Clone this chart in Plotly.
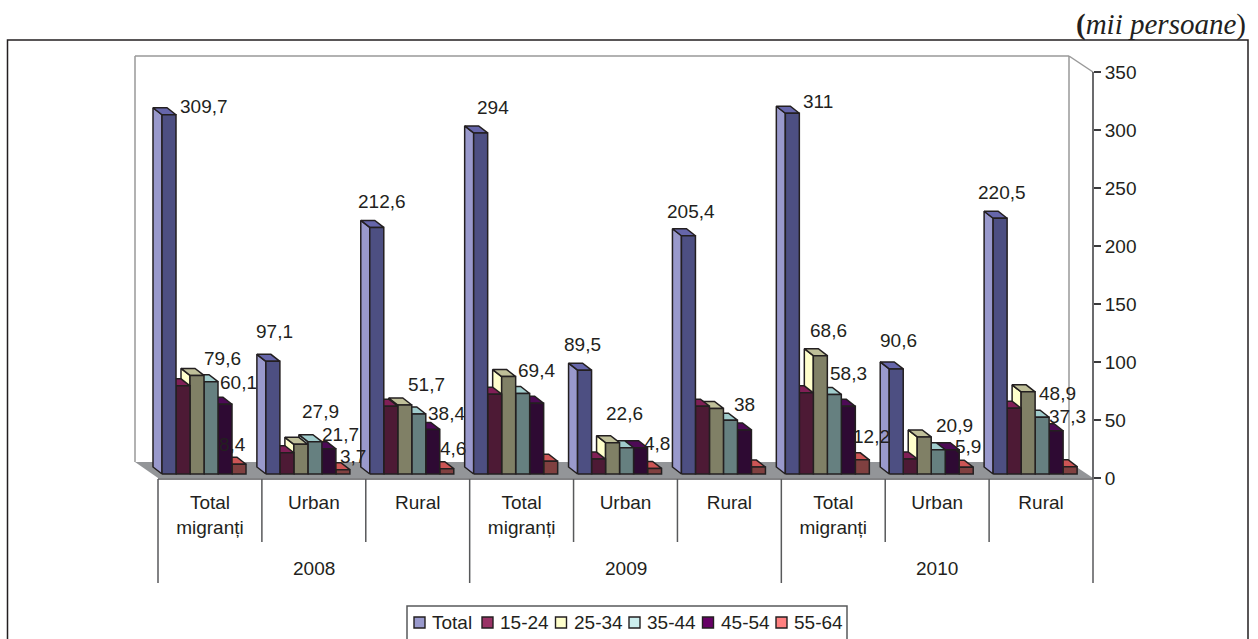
import plotly.graph_objects as go

# ---------- data ----------
YEARS = ["2008", "2009", "2010"]
CATEGORIES = ["Total<br>migranți", "Urban", "Rural"] * 3
SERIES = ["Total", "15-24", "25-34", "35-44", "45-54", "55-64"]
TOTAL = [309.7, 97.1, 212.6, 294, 89.5, 205.4, 311, 90.6, 220.5]
AGE_15_24 = [76, 18.3, 58.5, 68.8, 12.9, 58.5, 70, 13, 56.7]
AGE_25_34 = [85, 25.6, 59.5, 84, 27, 56.5, 102, 32, 70.8]
AGE_35_44 = [79.6, 27.9, 51.7, 69.4, 22.6, 46.4, 68.6, 20.9, 48.9]
AGE_45_54 = [60.1, 21.7, 38.4, 61, 22.6, 38, 58.3, 20.9, 37.3]
AGE_55_64 = [8.4, 3.7, 4.6, 11, 4.8, 6, 12.2, 5.9, 6.3]
VALUES = [TOTAL, AGE_15_24, AGE_25_34, AGE_35_44, AGE_45_54, AGE_55_64]
Y_TICKS = [0, 50, 100, 150, 200, 250, 300, 350]

# ---------- styles ----------
FRONT = ["#4D4F82", "#4D1A35", "#808066", "#668080", "#2E0A33", "#804040"]
SIDE = ["#9999CC", "#993366", "#FFFFCC", "#CCEEEE", "#660066", "#FF8080"]
TOP = ["#6666AA", "#801F56", "#BFBF99", "#A0CCCC", "#4D0A55", "#CC5555"]
INK = "#231F20"
FONT = "Liberation Sans"
FS = 19

# which labels are printed, with their pixel offset from the top-centre of the bar
LABEL_SHIFT = {
    (0, 0): (35, -8), (0, 3): (11, -23), (0, 4): (13, -22), (0, 5): (-7, -20),
    (1, 0): (2, -30), (1, 3): (6, -30), (1, 4): (12, -14), (1, 5): (10, -13),
    (2, 0): (5, -26), (2, 3): (8, -30), (2, 4): (14, -16), (2, 5): (6, -20),
    (3, 0): (12, -25), (3, 3): (14, -23),
    (4, 0): (-2, -26), (4, 3): (-2, -34), (4, 5): (2, -25),
    (5, 0): (3, -24), (5, 4): (0, -25),
    (6, 0): (26, -12), (6, 3): (-6, -64), (6, 4): (0, -33), (6, 5): (9, -23),
    (7, 0): (2, -28), (7, 3): (16, -24), (7, 5): (2, -21),
    (8, 0): (2, -26), (8, 3): (15, -24), (8, 4): (11, -14),
}

# ---------- geometry (pixels) ----------
W, H = 1258, 639
L, R, T, B = 135, 1093, 56, 478
X0 = 158
AXIS_Y = 479
UNIT = (R - X0) / 9          # px per category
S = 1.16                     # px per value unit
BAR_W = 14 / UNIT
BAR_IN = 4 / UNIT
DEPTH_X = 9 / UNIT
DEPTH_Y = 7 / S
BASE = 4 / S


def px(x):
    return (x - L) / (R - L)


def py(y):
    return (B - y) / (B - T)


def poly(points, out_x, out_y):
    for a, b in points:
        out_x.append(a)
        out_y.append(b)
    out_x.append(points[0][0])
    out_y.append(points[0][1])
    out_x.append(None)
    out_y.append(None)


fig = go.Figure()

# rightmost series first, so that each bar's front hides its neighbour's side
for j in reversed(range(len(SERIES))):
    sx, sy, tx, ty, fx, fy = [], [], [], [], [], []
    for i, v in enumerate(VALUES[j]):
        x1 = i + BAR_IN + j * BAR_W
        x2 = x1 + BAR_W
        y1, y2 = BASE, BASE + v
        poly([(x1, y1), (x1 - DEPTH_X, y1 + DEPTH_Y), (x1 - DEPTH_X, y2 + DEPTH_Y), (x1, y2)], sx, sy)
        poly([(x1, y2), (x1 - DEPTH_X, y2 + DEPTH_Y), (x2 - DEPTH_X, y2 + DEPTH_Y), (x2, y2)], tx, ty)
        poly([(x1, y1), (x2, y1), (x2, y2), (x1, y2)], fx, fy)
    for xs, ys, col in ((sx, sy, SIDE[j]), (tx, ty, TOP[j]), (fx, fy, FRONT[j])):
        fig.add_trace(go.Scatter(
            x=xs, y=ys, mode="lines", fill="toself", fillcolor=col,
            line=dict(color=INK, width=1.5), showlegend=False, hoverinfo="skip",
            name=SERIES[j],
        ))

annotations = []
for (i, j), (dx, dy) in LABEL_SHIFT.items():
    v = VALUES[j][i]
    annotations.append(dict(
        x=i + BAR_IN + (j + 0.5) * BAR_W, y=BASE + v, xref="x", yref="y",
        text=f"{v:g}".replace(".", ","), showarrow=False, xanchor="center", yanchor="middle",
        xshift=dx, yshift=-dy, font=dict(family=FONT, size=FS, color=INK),
    ))
for k, year in enumerate(YEARS):
    annotations.append(dict(
        x=3 * k + 1.5, xref="x", y=py(568), yref="paper", text=year, showarrow=False,
        xanchor="center", yanchor="middle", font=dict(family=FONT, size=FS, color=INK),
    ))
annotations.append(dict(
    x=px(1248), y=py(25), xref="paper", yref="paper", showarrow=False,
    text="<b>(</b><i>mii persoane</i>)", xanchor="right", yanchor="middle",
    font=dict(family="Liberation Serif", size=29, color=INK),
))

shapes = []


def line(x0, y0, x1, y1, color, width, layer="below"):
    shapes.append(dict(type="line", xref="paper", yref="paper", x0=px(x0), y0=py(y0), x1=px(x1), y1=py(y1),
                       line=dict(color=color, width=width), layer=layer))


# outer frame (runs off the bottom of the page)
shapes.append(dict(type="rect", xref="paper", yref="paper", x0=px(7.5), x1=px(1248), y0=py(660), y1=py(40),
                   line=dict(color=INK, width=1.5), fillcolor="white", layer="below"))
# floor
shapes.append(dict(type="path", xref="paper", yref="paper", layer="below", fillcolor="#939598", line=dict(width=0),
                   path=f"M{px(135)},{py(462)} L{px(1069)},{py(462)} L{px(R)},{py(478)} L{px(X0)},{py(478)} Z"))
# walls
line(135, 462, 135, 56, "#999999", 1.5)
line(135, 56, 1069, 56, "#999999", 1.5)
line(1069, 56, 1069, 462, "#999999", 1.5)
line(1069, 56, R, 72, "#999999", 1.5)
# value axis
line(R, 72, R, AXIS_Y, "#3A3A3C", 1.5)
# category axis
line(X0, AXIS_Y, R, AXIS_Y, "#58595B", 1.5)
for i in range(10):
    bottom = 583 if i % 3 == 0 else 542
    line(X0 + i * UNIT, AXIS_Y, X0 + i * UNIT, bottom, "#58595B", 1.5)

# legend box (runs off the bottom of the page), one swatch and name per series
shapes.append(dict(type="rect", xref="paper", yref="paper", x0=px(407), x1=px(847), y0=py(660), y1=py(606),
                   line=dict(color="#58595B", width=1.5), fillcolor="white", layer="below"))
for j, name in enumerate(SERIES):
    sw = 414 if j == 0 else 482 + (j - 1) * 73.5
    shapes.append(dict(type="rect", xref="paper", yref="paper", x0=px(sw), x1=px(sw + 11), y0=py(628), y1=py(617),
                       line=dict(color=INK, width=1.4), fillcolor=SIDE[j], layer="above"))
    annotations.append(dict(x=px(sw + 16), y=py(622), xref="paper", yref="paper", text=name, showarrow=False,
                            xanchor="left", yanchor="middle", font=dict(family=FONT, size=FS, color=INK)))

fig.update_layout(
    width=W, height=H, margin=dict(l=L, r=W - R, t=T, b=H - B, autoexpand=False, pad=0),
    paper_bgcolor="white", plot_bgcolor="rgba(0,0,0,0)",
    showlegend=False, font=dict(family=FONT, size=FS, color=INK),
    xaxis=dict(range=[(L - X0) / UNIT, 9], tickmode="array", tickvals=[i + 0.5 for i in range(9)],
               ticktext=CATEGORIES, ticks="", showgrid=False, zeroline=False, showline=False,
               ticklabelstandoff=11, tickangle=0, automargin=False, tickfont=dict(family=FONT, size=FS, color=INK)),
    yaxis=dict(range=[0, (B - T) / S], side="right", tickmode="array", tickvals=Y_TICKS, automargin=False,
               ticks="outside", ticklen=7, tickwidth=1.5, tickcolor="#3A3A3C", showgrid=False,
               zeroline=False, showline=False, tickfont=dict(family=FONT, size=FS, color=INK)),
    annotations=annotations, shapes=shapes,
)

fig.write_html("out.html", config=dict(displayModeBar=False),
               post_script="document.body.style.margin='0';document.body.style.overflow='hidden';")
